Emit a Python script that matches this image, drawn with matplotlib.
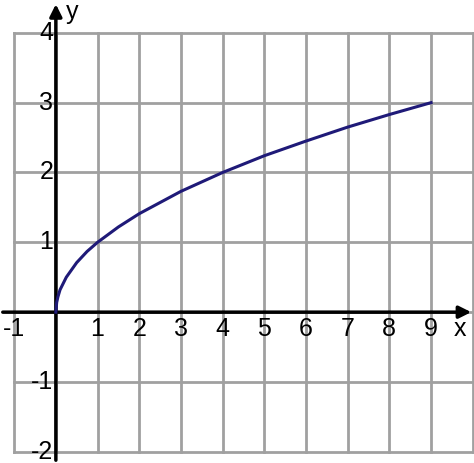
import matplotlib
matplotlib.use("Agg")
import matplotlib.pyplot as plt

curve_x = [0, 0.02, 0.05, 0.1, 0.25, 0.5, 0.75, 1, 1.5, 2, 3, 4, 5, 6, 7, 8, 9]
curve_y = [0, 0.14, 0.22, 0.32, 0.5, 0.71, 0.87, 1, 1.22, 1.41, 1.73, 2, 2.24, 2.45, 2.65, 2.83, 3]
x_ticks = [-1, 1, 2, 3, 4, 5, 6, 7, 8, 9]
y_ticks = [4, 3, 2, 1, -1, -2]

fig = plt.figure(figsize=(4.74, 4.63), dpi=100)
ax = fig.add_axes([0, 0, 1, 1])
ax.set_xlim(-1.34, 10.03)
ax.set_ylim(-2.16, 4.47)
ax.axis('off')

gc = '#a0a0a0'
for gx in range(-1, 11):
    ax.plot([gx, gx], [-2, 4], color=gc, lw=2, zorder=1)
for gy in range(-2, 5):
    ax.plot([-1, 10], [gy, gy], color=gc, lw=2, zorder=1)

ax.annotate('', xy=(0, 4.45), xytext=(0, -2.16),
            arrowprops=dict(arrowstyle='-|>', color='black', lw=2.5, mutation_scale=18), zorder=3)
ax.annotate('', xy=(10.03, 0), xytext=(-1.34, 0),
            arrowprops=dict(arrowstyle='-|>', color='black', lw=2.5, mutation_scale=18), zorder=3)

ax.plot(curve_x, curve_y, color='#1f1a78', lw=2.2, zorder=4)

fs = 18
for t in x_ticks:
    ax.text(t, -0.07, str(t), ha='center', va='top', fontsize=fs, family='Liberation Sans', zorder=5)
for t in y_ticks:
    ax.text(-0.06, t, str(t), ha='right', va='center', fontsize=fs, family='Liberation Sans', zorder=5)
ax.text(9.7, -0.07, 'x', ha='center', va='top', fontsize=fs, family='Liberation Sans')
ax.text(0.38, 4.3, 'y', ha='center', va='center', fontsize=fs, family='Liberation Sans')

fig.savefig('out.png', dpi=100)
